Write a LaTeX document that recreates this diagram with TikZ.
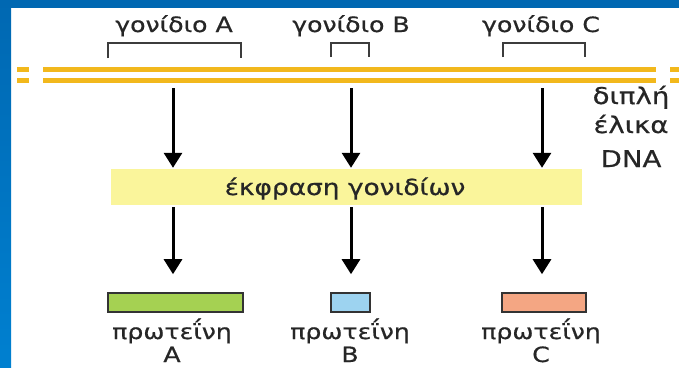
\documentclass[tikz,border=0pt]{standalone}
\usepackage{fontspec}
\setmainfont{DejaVu Sans}[FakeStretch=1.2,FakeBold=0.6]
\usetikzlibrary{arrows.meta}
\definecolor{frameblue}{RGB}{0,104,178}
\definecolor{frameblue2}{RGB}{0,128,208}
\definecolor{dnacol}{RGB}{242,184,28}
\definecolor{boxyel}{RGB}{250,245,155}
\definecolor{protA}{RGB}{165,209,82}
\definecolor{protB}{RGB}{157,211,240}
\definecolor{protC}{RGB}{244,166,131}
\definecolor{brk}{RGB}{60,60,60}
\tikzset{
  lbl/.style={font=\fontsize{21}{23}\selectfont, inner sep=0pt, text=black!85, anchor=base},
  biglbl/.style={lbl, font=\fontsize{23}{25}\selectfont},
  strand/.style={line width=5pt, draw=dnacol},
  bracket/.style={draw=brk, line width=1.6pt},
  arr/.style={line width=3pt, -{Triangle[length=15pt,width=18pt]}},
  prot/.style={draw=black!80, line width=1.6pt, minimum height=19pt, inner sep=0pt},
}
\begin{document}
\begin{tikzpicture}[x=1pt,y=-1pt]
\useasboundingbox (0,0) rectangle (679,367);
\fill[white] (0,0) rectangle (679,367);
% frame
\shade[top color=frameblue, bottom color=frameblue2] (0,0) rectangle (11,367);
\fill[frameblue] (0,0) rectangle (679,8);
% DNA strands
\draw[strand] (17,69) -- (29,69);
\draw[strand] (17,80) -- (29,80);
\draw[strand] (43,69) -- (656,69);
\draw[strand] (43,80) -- (656,80);
\draw[strand] (670,69) -- (679,69);
\draw[strand] (670,80) -- (679,80);
% gene brackets
\draw[bracket] (108,58) -- (108,43) -- (241,43) -- (241,58);
\draw[bracket] (331,57) -- (331,43) -- (369,43) -- (369,57);
\draw[bracket] (503,57) -- (503,43) -- (585,43) -- (585,57);
% gene labels
\node[lbl] (gA) at (174,32) {γονίδιο Α};
\node[lbl] (gB) at (351,32) {γονίδιο B};
\node[lbl] (gC) at (541,32) {γονίδιο C};
% DNA label
\node[biglbl] (dna1) at (631,104) {διπλή};
\node[biglbl] (dna2) at (631,133) {έλικα};
\node[biglbl] (dna3) at (631,167) {DNA};
% expression box
\node[fill=boxyel, minimum width=471pt, minimum height=36pt, inner sep=0pt] (expr) at (346.5,187) {};
\node[lbl, font=\fontsize{22}{24}\selectfont] (exprt) at (345,195) {έκφραση γονιδίων};
% arrow starts
\coordinate (sA) at (173,88);
\coordinate (sB) at (351,88);
\coordinate (sC) at (542,88);
% proteins
\node[prot, fill=protA, minimum width=135pt] (pA) at (175.5,302.5) {};
\node[prot, fill=protB, minimum width=39pt] (pB) at (350.5,302.5) {};
\node[prot, fill=protC, minimum width=84pt] (pC) at (544,302.5) {};
\node[lbl] (tA) at (172,339) {πρωτεΐνη};
\node[lbl] (tB) at (350,339) {πρωτεΐνη};
\node[lbl] (tC) at (541,339) {πρωτεΐνη};
\node[lbl] (lA) at (172,362) {Α};
\node[lbl] (lB) at (350,362) {B};
\node[lbl] (lC) at (541,362) {C};
% arrows
\draw[arr] (sA) -- ([yshift=1pt]sA |- expr.north);
\draw[arr] (sB) -- ([yshift=1pt]sB |- expr.north);
\draw[arr] (sC) -- ([yshift=1pt]sC |- expr.north);
\draw[arr] ([yshift=-2pt]sA |- expr.south) -- ([yshift=18pt]sA |- pA.north);
\draw[arr] ([yshift=-2pt]sB |- expr.south) -- ([yshift=18pt]sB |- pB.north);
\draw[arr] ([yshift=-2pt]sC |- expr.south) -- ([yshift=18pt]sC |- pC.north);
\end{tikzpicture}
\end{document}
